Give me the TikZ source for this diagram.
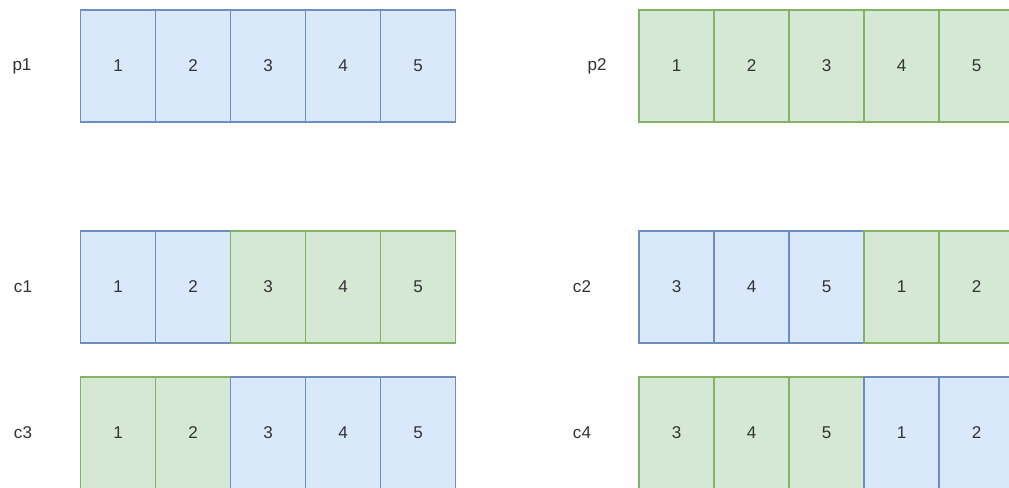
\documentclass[tikz,border=0pt]{standalone}
\usepackage{fontspec}
\setmainfont{Liberation Sans}
\usetikzlibrary{positioning}
\definecolor{BluFill}{HTML}{DAE8FC}
\definecolor{BluLine}{HTML}{6C8EBF}
\definecolor{GrnFill}{HTML}{D5E8D4}
\definecolor{GrnLine}{HTML}{82B366}
\definecolor{TxtGray}{HTML}{333333}
\tikzset{
  cell/.style={
    rectangle, line width=0.9pt, inner sep=0pt, outer sep=0pt,
    minimum width=56.25pt, minimum height=84pt,
    anchor=north west, font=\fontsize{12.8}{14}\selectfont, text=TxtGray},
  cell_b/.style={cell, draw=BluLine, fill=BluFill},
  cell_g/.style={cell, draw=GrnLine, fill=GrnFill},
  lbl/.style={font=\fontsize{12.8}{14}\selectfont, text=TxtGray, inner sep=0pt},
}

\begin{document}
\begin{tikzpicture}[x=0.75pt,y=-0.75pt]

%% frame
\useasboundingbox (0,0) rectangle (1009,488);
\clip (0,0) rectangle (1009,488);

%% column starts, row tops
\def\Lx{80.5} \def\Rx{639}
\def\Ta{10} \def\Tb{231} \def\Tc{377}

%% ── parents ─────────────────────────────────────────────
\node[lbl] at (22,66)  (Lp1){p1};
\node[lbl] at (597,66) (Lp2){p2};
\foreach \t/\s [count=\k] in {1/b,2/b,3/b,4/b,5/b}
  \node[cell_\s] at (\Lx+75*\k-75,\Ta) (p1_\k){\t};
\foreach \t/\s [count=\k] in {1/g,2/g,3/g,4/g,5/g}
  \node[cell_\s] at (\Rx+75*\k-75,\Ta) (p2_\k){\t};

%% ── children ────────────────────────────────────────────
\node[lbl] at (23,287)  (Lc1){c1};
\node[lbl] at (582,287) (Lc2){c2};
\foreach \t/\s [count=\k] in {1/b,2/b,3/g,4/g,5/g}
  \node[cell_\s] at (\Lx+75*\k-75,\Tb) (c1_\k){\t};
\foreach \t/\s [count=\k] in {3/b,4/b,5/b,1/g,2/g}
  \node[cell_\s] at (\Rx+75*\k-75,\Tb) (c2_\k){\t};

\node[lbl] at (23,433)  (Lc3){c3};
\node[lbl] at (582,433) (Lc4){c4};
\foreach \t/\s [count=\k] in {1/g,2/g,3/b,4/b,5/b}
  \node[cell_\s] at (\Lx+75*\k-75,\Tc) (c3_\k){\t};
\foreach \t/\s [count=\k] in {3/g,4/g,5/g,1/b,2/b}
  \node[cell_\s] at (\Rx+75*\k-75,\Tc) (c4_\k){\t};

\end{tikzpicture}
\end{document}
